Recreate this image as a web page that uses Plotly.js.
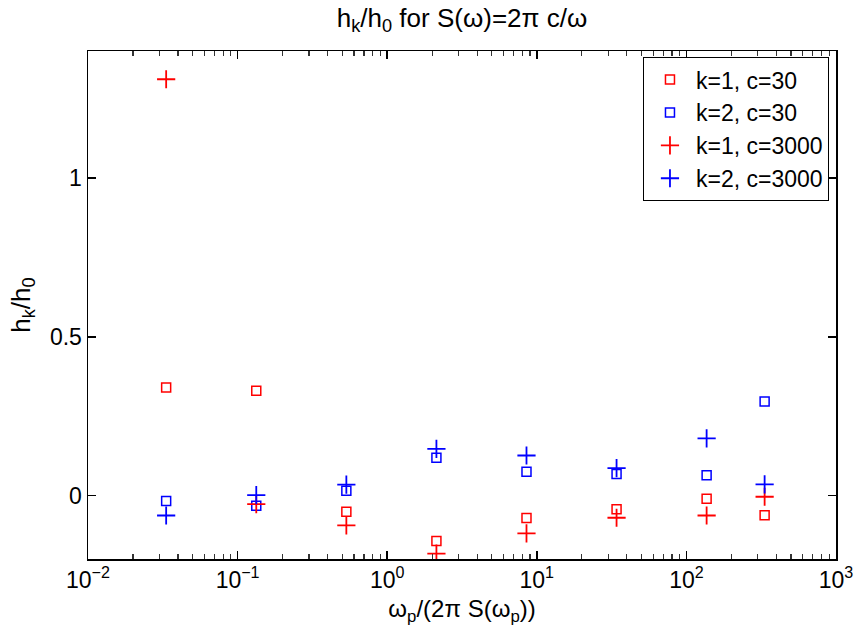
<!DOCTYPE html>
<html>
<head>
<meta charset="utf-8">
<script src="https://cdn.plot.ly/plotly-3.0.1.min.js"></script>
<style>html,body{margin:0;padding:0;background:#fff;}#chart{width:857px;height:639px;}</style>
</head>
<body>
<div id="chart"></div>
<script>
const xVals = [0.0333, 0.1333, 0.5333, 2.133, 8.533, 34.13, 136.5, 333.3];
const k1c30   = [0.340, 0.330, -0.051, -0.143, -0.071, -0.043, -0.010, -0.062];
const k2c30   = [-0.017, -0.032, 0.015, 0.119, 0.075, 0.068, 0.064, 0.296];
const k1c3000 = [1.311, -0.027, -0.094, -0.183, -0.119, -0.070, -0.063, -0.004];
const k2c3000 = [-0.063, 0.001, 0.034, 0.147, 0.126, 0.086, 0.180, 0.035];
const seriesNames = ['k=1, c=30', 'k=2, c=30', 'k=1, c=3000', 'k=2, c=3000'];
const yTicks = [0, 0.5, 1];
const yTickLabels = ['0', '0.5', '1'];
const xTicks = [0.01, 0.1, 1, 10, 100, 1000];
const xTickLabels = ['10<sup>−2</sup>', '10<sup>−1</sup>', '10<sup>0</sup>', '10<sup>1</sup>', '10<sup>2</sup>', '10<sup>3</sup>'];

const minorX = [];
for (let d = -2; d < 3; d++) {
  for (let m = 2; m <= 9; m++) minorX.push(m * Math.pow(10, d));
}

const FONT = 'Liberation Sans, Arial, sans-serif';
function sq(y, color, name) {
  return {x: xVals, y: y, name: name, type: 'scatter', mode: 'markers',
    marker: {symbol: 'square-open', size: 9, color: color, line: {width: 1.5, color: color}}};
}
function plus(y, color, name) {
  return {x: xVals, y: y, name: name, type: 'scatter', mode: 'markers',
    marker: {symbol: 'cross-thin-open', size: 13, color: color, line: {width: 1.8, color: color}}};
}
const data = [
  sq(k1c30, '#ff0000', seriesNames[0]),
  sq(k2c30, '#0000ff', seriesNames[1]),
  plus(k1c3000, '#ff0000', seriesNames[2]),
  plus(k2c3000, '#0000ff', seriesNames[3])
];
const layout = {
  width: 857, height: 639,
  margin: {l: 88, r: 21, t: 51, b: 80},
  paper_bgcolor: '#fff', plot_bgcolor: '#fff',
  font: {family: FONT, size: 23, color: '#000'},
  title: {text: 'h<sub>k</sub>/h<sub>0</sub> for S(ω)=2π c/ω', font: {family: FONT, size: 26, color: '#000'},
          x: 0.5, xref: 'paper', y: 0.972, yref: 'container', yanchor: 'middle'},
  showlegend: true,
  legend: {x: 0.9906, xanchor: 'right', y: 0.988, yanchor: 'top',
           bgcolor: '#fff', bordercolor: '#000', borderwidth: 1, itemwidth: 42,
           font: {family: FONT, size: 23, color: '#000'}},
  xaxis: {type: 'log', range: [-2, 3], tickvals: xTicks, ticktext: xTickLabels,
          ticks: 'inside', ticklen: 8, tickwidth: 1.5, tickcolor: '#000', showline: true, linecolor: '#000', linewidth: 1.5,
          mirror: 'ticks', showgrid: false, zeroline: false,
          minor: {tickvals: minorX, ticks: 'inside', ticklen: 5, tickwidth: 1.2, tickcolor: '#333', showgrid: false},
          tickfont: {family: FONT, size: 23, color: '#000'},
          title: {text: 'ω<sub>p</sub>/(2π S(ω<sub>p</sub>))', font: {family: FONT, size: 24, color: '#000'}, standoff: 8}},
  yaxis: {range: [-0.2, 1.4], tickvals: yTicks, ticktext: yTickLabels,
          ticks: 'inside', ticklen: 8, tickwidth: 1.5, tickcolor: '#000', showline: true, linecolor: '#000', linewidth: 1.5,
          mirror: 'ticks', showgrid: false, zeroline: false,
          tickfont: {family: FONT, size: 23, color: '#000'},
          title: {text: 'h<sub>k</sub>/h<sub>0</sub>', font: {family: FONT, size: 26, color: '#000'}, standoff: 12}}
};
Plotly.newPlot('chart', data, layout, {displayModeBar: false, staticPlot: true});
</script>
</body>
</html>
